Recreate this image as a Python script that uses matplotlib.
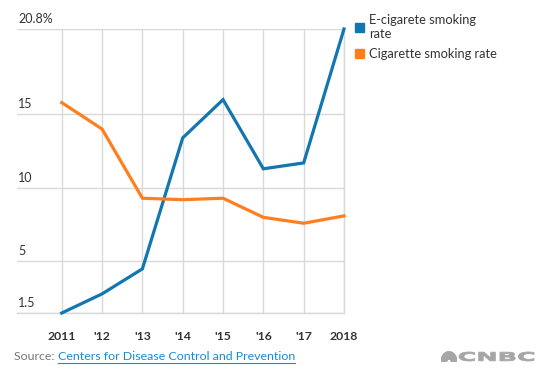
import matplotlib
matplotlib.use("Agg")
import matplotlib.pyplot as plt
from matplotlib.patches import Patch, Wedge, PathPatch
from matplotlib.lines import Line2D
from matplotlib.textpath import TextPath
from matplotlib.font_manager import FontProperties
from matplotlib.transforms import Affine2D

years = [2011, 2012, 2013, 2014, 2015, 2016, 2017, 2018]
year_labels = ["2011", "'12", "'13", "'14", "'15", "'16", "'17", "2018"]
ecig = [1.5, 2.8, 4.5, 13.4, 16.0, 11.3, 11.7, 20.8]
cig = [15.8, 14.0, 9.3, 9.2, 9.3, 8.0, 7.6, 8.1]
yticks = [1.5, 5, 10, 15, 20.8]
ytick_labels = ["1.5", "5", "10", "15", "20.8%"]

blue = "#1276b1"
orange = "#ff7f1e"
grid = "#d9d9d9"
logo_grey = "#a6a6a6"

plt.rcParams["font.family"] = ["Lato", "DejaVu Sans"]

W, H = 545, 373
fig = plt.figure(figsize=(W / 100, H / 100), dpi=100)
ax = fig.add_axes([17 / W, 1 - 313 / H, (344 - 17) / W, (313 - 29) / H])

ax.plot(years, ecig, color=blue, lw=2.3, solid_joinstyle="miter", zorder=3, clip_on=False)
ax.plot(years, cig, color=orange, lw=2.3, solid_joinstyle="miter", zorder=3, clip_on=False)

ax.set_xlim(2009.89, 2018)
ax.set_ylim(1.5, 20.8)
ax.set_xticks(years)
ax.set_yticks(yticks)
ax.set_xticklabels([])
ax.set_yticklabels([])
ax.tick_params(length=0)
ax.grid(True, color=grid, lw=1)
for s in ax.spines.values():
    s.set_visible(False)
ax.axvline(2018, color=grid, lw=1, clip_on=False, zorder=1)
ax.axhline(1.5, color=grid, lw=1, clip_on=False, zorder=1)

for v, lab in zip(yticks, ytick_labels):
    ax.annotate(lab, (0, v), xycoords=("axes fraction", "data"),
                xytext=(1, 3), textcoords="offset points",
                ha="left", va="bottom", fontsize=9, color="#333333")

for x, lab in zip(years, year_labels):
    ax.annotate(lab, (x, 0), xycoords=("data", "axes fraction"),
                xytext=(0, -13), textcoords="offset points",
                ha="center", va="top", fontsize=8.8, fontweight="bold",
                color="#333333")

handles = [Patch(color=blue), Patch(color=orange)]
fig.legend(handles, ["E-cigarete smoking\nrate", "Cigarette smoking rate"],
           loc="upper left", bbox_to_anchor=(343 / W, 1 - 2 / H),
           frameon=False, fontsize=9.3, handlelength=0.7, handleheight=0.7,
           handletextpad=0.45, labelspacing=0.65, labelcolor="#333333")

t1 = fig.text(14 / W, 1 - 357 / H, "Source: ", fontsize=8.9, color="#777777",
              va="center", ha="left")
fig.canvas.draw()
bb = t1.get_window_extent()
t2 = fig.text(bb.x1 / W, 1 - 357 / H, "Centers for Disease Control and Prevention",
              fontsize=8.9, color="#1a8bd3", va="center", ha="left")
fig.canvas.draw()
bb2 = t2.get_window_extent()
fig.add_artist(Line2D([bb2.x0 / W, bb2.x1 / W], [1 - 363 / H, 1 - 363 / H],
                      color="#1a8bd3", lw=0.8))

# CNBC logo: peacock fan
logo_ax = fig.add_axes([441 / W, 1 - 362 / H, 16 / W, 11 / H])
logo_ax.set_xlim(-1.45, 1.45)
logo_ax.set_ylim(0, 1.6)
logo_ax.axis("off")
for i in range(6):
    a0 = 180 - i * 30
    logo_ax.add_patch(Wedge((0, 0.05), 1.45, a0 - 27, a0 - 3, width=1.05,
                            color=logo_grey))

# CNBC wordmark, stretched to the logo's wide letter shape
tp = TextPath((0, 0), "CNBC", prop=FontProperties(family="DejaVu Sans", weight="bold"))
ext = tp.get_extents()
x0, y0, x1, y1 = 459, 373 - 361, 534, 373 - 352
tr = (Affine2D().translate(-ext.x0, -ext.y0)
      .scale((x1 - x0) / ext.width, (y1 - y0) / ext.height)
      .translate(x0, y0))
fig.add_artist(PathPatch(tp, transform=tr, facecolor=logo_grey,
                         edgecolor=logo_grey, lw=0.6))

fig.savefig("out.png", dpi=100)
